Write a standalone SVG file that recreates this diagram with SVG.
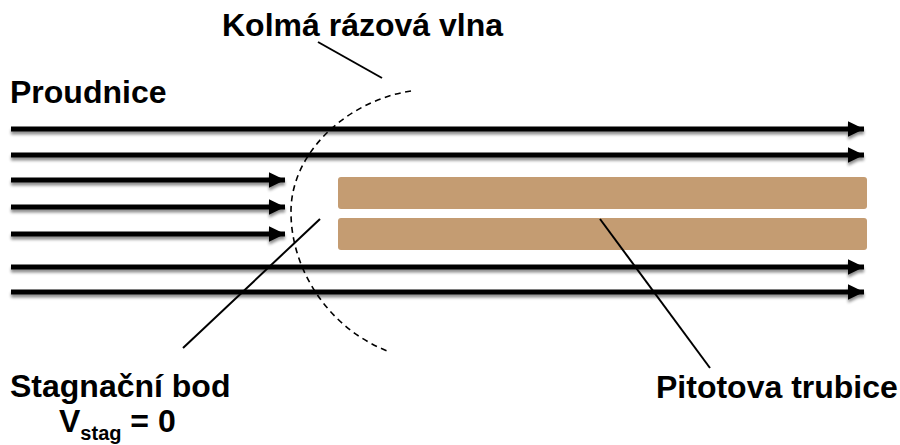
<svg xmlns="http://www.w3.org/2000/svg" width="900" height="445" viewBox="0 0 900 445">
  <style>
    .lbl { font-family: "Liberation Sans", Arial, sans-serif; font-weight: bold; font-size: 32px; fill: #000; }
    .flow { stroke: #000; stroke-width: 5; fill: none; marker-end: url(#head); }
    .lead { stroke: #000; stroke-width: 2; fill: none; }
    .tube { fill: #C49C72; }
  </style>
  <defs>
    <marker id="head" markerUnits="userSpaceOnUse" markerWidth="18" markerHeight="18" viewBox="0 0 18 18" refX="16.5" refY="9" orient="auto">
      <path d="M0,1 L16.5,9 L0,17 Z" fill="#000"/>
    </marker>
    <filter id="shadow" x="-5%" y="-50%" width="110%" height="200%">
      <feGaussianBlur in="SourceAlpha" stdDeviation="1.5"/>
      <feOffset dx="0" dy="2.5" result="b"/>
      <feComponentTransfer><feFuncA type="linear" slope="0.45"/></feComponentTransfer>
      <feMerge><feMergeNode/><feMergeNode in="SourceGraphic"/></feMerge>
    </filter>
  </defs>

  <!-- streamlines -->
  <g id="streamlines" filter="url(#shadow)">
    <line class="flow" x1="11" y1="129" x2="864" y2="129"/>
    <line class="flow" x1="11" y1="155" x2="864" y2="155"/>
    <line class="flow" x1="11" y1="180" x2="285" y2="180"/>
    <line class="flow" x1="11" y1="207" x2="285" y2="207"/>
    <line class="flow" x1="11" y1="234" x2="285" y2="234"/>
    <line class="flow" x1="11" y1="267" x2="864" y2="267"/>
    <line class="flow" x1="11" y1="292" x2="864" y2="292"/>
  </g>

  <!-- Pitot tube walls -->
  <g id="pitot-tube">
    <rect class="tube" x="338" y="177" width="529" height="32" rx="3"/>
    <rect class="tube" x="338" y="218" width="529" height="32" rx="3"/>
  </g>

  <!-- normal shock front -->
  <g id="shock">
    <path d="M411,91 C350,100 292,150 291,210 C290,270 330,330 390,352" fill="none" stroke="#000" stroke-width="1.6" stroke-dasharray="6,4.5"/>
  </g>

  <!-- leader lines -->
  <g id="leaders">
    <line class="lead" x1="318" y1="42" x2="382" y2="78"/>
    <line class="lead" x1="183" y1="348" x2="320" y2="219"/>
    <line class="lead" x1="600" y1="219" x2="710" y2="368"/>
  </g>

  <!-- labels -->
  <g id="label-shock"><text class="lbl" x="222" y="36">Kolmá rázová vlna</text></g>
  <g id="label-streamlines"><text class="lbl" x="10" y="103">Proudnice</text></g>
  <g id="label-stagnation">
    <text class="lbl" x="10" y="397">Stagnační bod</text>
    <text class="lbl" x="59" y="432">V<tspan font-size="20" dy="8">stag</tspan><tspan dy="-8"> = 0</tspan></text>
  </g>
  <g id="label-tube"><text class="lbl" x="656" y="398">Pitotova trubice</text></g>
</svg>
